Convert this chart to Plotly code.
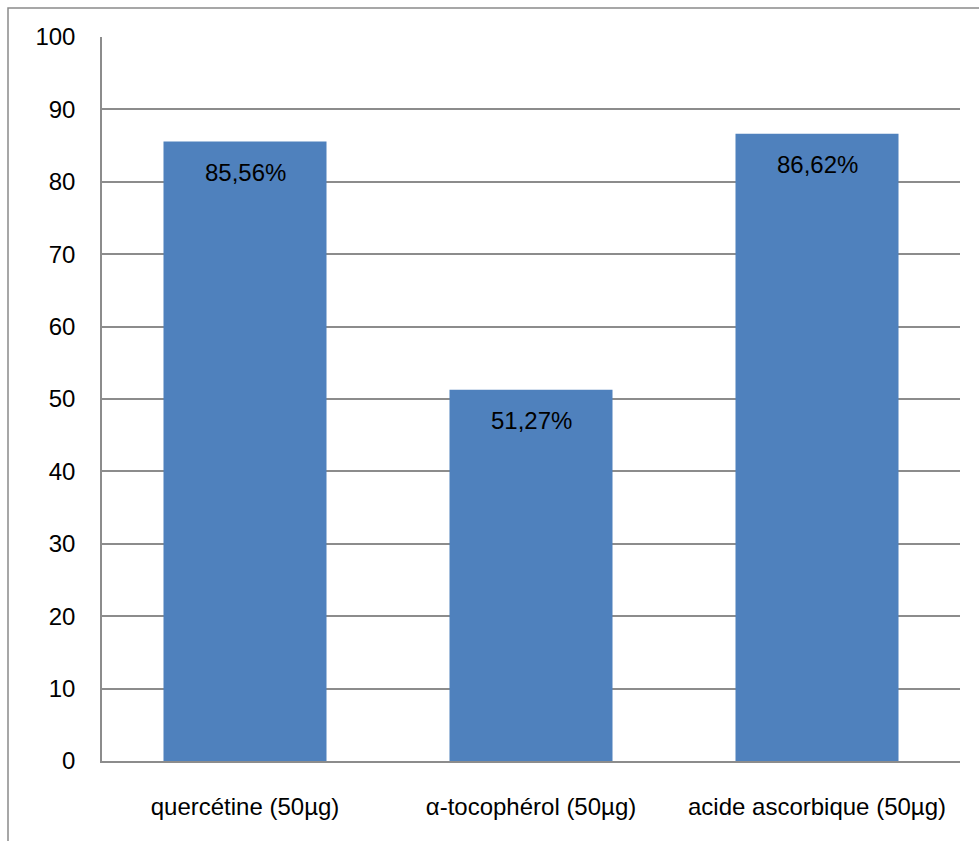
import plotly.graph_objects as go

# Inhibition (%) for each compound at 50 µg
categories = ["quercétine (50µg)", "α-tocophérol (50µg)", "acide ascorbique (50µg)"]
values = [85.56, 51.27, 86.62]
y_ticks = [0, 10, 20, 30, 40, 50, 60, 70, 80, 90, 100]

W, H = 979, 841
M_L, M_R, M_T, M_B = 102, 19, 37, 80
plot_w = W - M_L - M_R
plot_h = H - M_T - M_B

FONT = "Liberation Sans"
FS = 24
BAR_COLOR = "#4F81BD"
GRID_COLOR = "#8C8C8C"

fig = go.Figure(
    go.Bar(
        x=categories,
        y=values,
        marker=dict(color=BAR_COLOR, line=dict(width=0)),
        hoverinfo="skip",
    )
)

# value labels just inside the top of each bar
for cat, val in zip(categories, values):
    fig.add_annotation(
        x=cat,
        y=val,
        yshift=-31,
        text=f"{val:.2f}%".replace(".", ","),
        showarrow=False,
        font=dict(family=FONT, size=FS, color="#000000"),
        xanchor="center",
        yanchor="middle",
    )

# chart-area frame (runs off the right and bottom edges)
fig.add_shape(
    type="rect",
    xref="paper",
    yref="paper",
    x0=(8 - M_L) / plot_w,
    x1=(W + 10 - M_L) / plot_w,
    y0=-(M_B + 10) / plot_h,
    y1=(H - M_B - 8) / plot_h,
    line=dict(color="#8A8A8A", width=1.5),
    fillcolor="rgba(0,0,0,0)",
    layer="below",
)

fig.update_layout(
    width=W,
    height=H,
    margin=dict(l=M_L, r=M_R, t=M_T, b=M_B, pad=0),
    paper_bgcolor="white",
    plot_bgcolor="white",
    bargap=0.43,
    showlegend=False,
    font=dict(family=FONT, size=FS, color="#000000"),
    xaxis=dict(
        showgrid=False,
        showline=True,
        linecolor=GRID_COLOR,
        linewidth=1.5,
        ticks="",
        tickfont=dict(family=FONT, size=FS, color="#000000"),
        ticklabelstandoff=23,
        fixedrange=True,
    ),
    yaxis=dict(
        range=[0, 100],
        tickvals=y_ticks,
        ticktext=[str(t) for t in y_ticks],
        showgrid=True,
        gridcolor=GRID_COLOR,
        gridwidth=1.5,
        showline=True,
        linecolor=GRID_COLOR,
        linewidth=1.5,
        zeroline=False,
        ticks="",
        tickfont=dict(family=FONT, size=FS, color="#000000"),
        ticklabelstandoff=20,
        fixedrange=True,
    ),
)

fig.write_html("out.html", config={"displayModeBar": False})
